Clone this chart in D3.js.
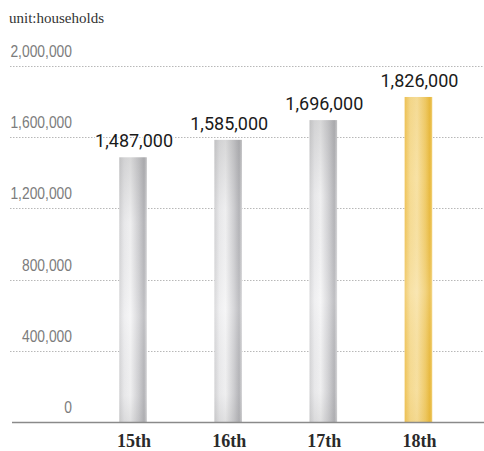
<!DOCTYPE html>
<html>
<head>
<meta charset="utf-8">
<script src="https://cdn.jsdelivr.net/npm/d3@7"></script>
<style>
  html, body { margin: 0; padding: 0; background: #fff; }
  svg { display: block; }
</style>
</head>
<body>
<svg id="chart" width="484" height="451"></svg>
<script>
// Households by term
const categories = ["15th", "16th", "17th", "18th"];
const households = [1487000, 1585000, 1696000, 1826000];
const valueLabels = ["1,487,000", "1,585,000", "1,696,000", "1,826,000"];
const yTicks = [0, 400000, 800000, 1200000, 1600000, 2000000];
const yTickLabels = ["0", "400,000", "800,000", "1,200,000", "1,600,000", "2,000,000"];
const unitLabel = "unit:households";

const W = 484, H = 451;
const svg = d3.select("#chart");

const y = d3.scaleLinear().domain([0, 2000000]).range([422, 66]);
const x = d3.scaleBand().domain(categories).range([85.5, 466])
  .paddingInner(0.71).paddingOuter(0.355);

// gradients
const defs = svg.append("defs");
function hGrad(id, stops) {
  const g = defs.append("linearGradient").attr("id", id)
    .attr("x1", "0").attr("y1", "0").attr("x2", "1").attr("y2", "0");
  stops.forEach(([o, c]) => g.append("stop").attr("offset", o).attr("stop-color", c));
}
hGrad("silver", [[0, "#d6d6d8"], [0.18, "#ededef"], [0.4, "#f5f5f6"], [0.7, "#d2d2d5"], [0.9, "#b6b6ba"], [1, "#dadadc"]]);
hGrad("gold", [[0, "#efc45a"], [0.2, "#f6dc95"], [0.45, "#f8e2a6"], [0.75, "#f0cc6c"], [0.92, "#e8b93e"], [1, "#f2d27c"]]);

function vShade(id, color, stops) {
  const g = defs.append("linearGradient").attr("id", id)
    .attr("x1", "0").attr("y1", "0").attr("x2", "0").attr("y2", "1");
  stops.forEach(([o, c, a]) => g.append("stop").attr("offset", o).attr("stop-color", c).attr("stop-opacity", a));
}
vShade("shadeSilver", null, [[0, "#808080", 0.25], [0.25, "#808080", 0.05], [0.6, "#ffffff", 0.12], [0.9, "#808080", 0.05], [1, "#808080", 0.18]]);
vShade("shadeGold", null, [[0, "#d9a520", 0.12], [0.25, "#d9a520", 0.0], [0.6, "#ffffff", 0.15], [0.9, "#d9a520", 0.04], [1, "#d9a520", 0.15]]);

// unit label
svg.append("text")
  .attr("x", 9).attr("y", 23)
  .attr("font-family", "'Liberation Serif', 'Times New Roman', serif")
  .attr("font-size", 15).attr("fill", "#333")
  .text(unitLabel);

// dotted gridlines
svg.append("g").selectAll("line")
  .data(yTicks.filter(d => d > 0))
  .join("line")
  .attr("x1", 10).attr("x2", W)
  .attr("y1", d => Math.round(y(d)) + 0.5).attr("y2", d => Math.round(y(d)) + 0.5)
  .attr("stroke", "#b8b8b8").attr("stroke-width", 1)
  .attr("stroke-dasharray", "1.5,1.5");

// y tick labels (horizontally condensed)
svg.append("g").selectAll("text")
  .data(yTicks)
  .join("text")
  .attr("transform", d => `translate(72,${y(d) - 9}) scale(0.84,1)`)
  .attr("text-anchor", "end")
  .attr("font-family", "'Liberation Sans', Arial, sans-serif")
  .attr("font-size", 16.5).attr("fill", "#7c7c7c")
  .text((d, i) => yTickLabels[i]);

// bars
const lastIdx = categories.length - 1;
const bars = svg.append("g").selectAll("g")
  .data(categories)
  .join("g");
bars.append("rect")
  .attr("x", d => x(d))
  .attr("width", x.bandwidth())
  .attr("y", (d, i) => y(households[i]))
  .attr("height", (d, i) => y(0) - y(households[i]))
  .attr("fill", (d, i) => i === lastIdx ? "url(#gold)" : "url(#silver)");
bars.append("rect")
  .attr("x", d => x(d))
  .attr("width", x.bandwidth())
  .attr("y", (d, i) => y(households[i]))
  .attr("height", (d, i) => y(0) - y(households[i]))
  .attr("fill", (d, i) => i === lastIdx ? "url(#shadeGold)" : "url(#shadeSilver)");

// baseline
svg.append("line")
  .attr("x1", 12).attr("x2", W)
  .attr("y1", y(0) + 0.5).attr("y2", y(0) + 0.5)
  .attr("stroke", "#8a8a8a").attr("stroke-width", 1.5);

// value labels
svg.append("g").selectAll("text")
  .data(categories)
  .join("text")
  .attr("x", d => x(d) + x.bandwidth() / 2 + 1)
  .attr("y", (d, i) => y(households[i]) - 10)
  .attr("text-anchor", "middle")
  .attr("font-family", "Roboto, 'Open Sans', sans-serif")
  .attr("font-size", 18).attr("font-weight", 400).attr("fill", "#1a1a1a")
  .attr("stroke", "#fff").attr("stroke-width", 3).attr("paint-order", "stroke")
  .text((d, i) => valueLabels[i]);

// category labels
svg.append("g").selectAll("text")
  .data(categories)
  .join("text")
  .attr("x", d => x(d) + x.bandwidth() / 2 + 1)
  .attr("y", 447)
  .attr("text-anchor", "middle")
  .attr("font-family", "'Liberation Serif', 'Times New Roman', serif")
  .attr("font-size", 18).attr("font-weight", "bold").attr("fill", "#2a2a2a")
  .text(d => d);
</script>
</body>
</html>
